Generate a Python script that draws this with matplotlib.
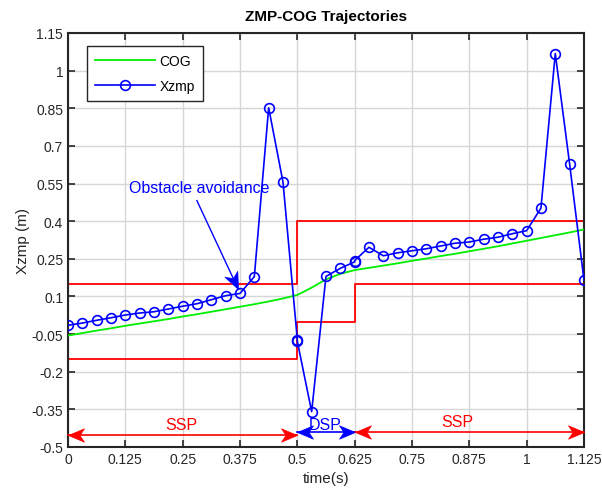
import numpy as np
import matplotlib
matplotlib.use("Agg")
import matplotlib.pyplot as plt
from matplotlib.path import Path
from matplotlib.markers import MarkerStyle
from matplotlib.transforms import Affine2D

plt.rcParams['font.family'] = ['Liberation Sans', 'DejaVu Sans']

dt = 1.0 / 32
# time indices of Xzmp samples (duplicates at the phase boundaries)
zmp_k = [0, 1, 2, 3, 4, 5, 6, 7, 8, 9, 10, 11, 12, 13, 14, 15, 16, 16, 17, 18, 19, 20, 20,
         21, 22, 23, 24, 25, 26, 27, 28, 29, 30, 31, 32, 33, 34, 35, 36]
zmp_x = [-0.015, -0.006, 0.005, 0.015, 0.026, 0.034, 0.039, 0.050, 0.061, 0.071, 0.087,
         0.103, 0.112, 0.179, 0.852, 0.556, -0.072, -0.079, -0.359, 0.180, 0.212, 0.238,
         0.243, 0.296, 0.262, 0.274, 0.282, 0.290, 0.301, 0.312, 0.317, 0.328, 0.336,
         0.350, 0.362, 0.452, 1.068, 0.628, 0.166]

cog_k = list(range(37))
cog_x = [-0.056, -0.046, -0.036, -0.027, -0.017, -0.008, 0.001, 0.010, 0.020, 0.029,
         0.039, 0.049, 0.059, 0.069, 0.080, 0.092, 0.106, 0.135, 0.168, 0.190, 0.205,
         0.214, 0.223, 0.232, 0.242, 0.251, 0.261, 0.270, 0.280, 0.290, 0.300, 0.311,
         0.322, 0.333, 0.344, 0.355, 0.367]

# support-polygon bounds (step functions)
bound_t = [0, 0.5, 0.5, 0.625, 0.625, 1.125]
upper_b = [0.15, 0.15, 0.4, 0.4, 0.4, 0.4]
lower_b = [-0.15, -0.15, 0.0, 0.0, 0.15, 0.15]

# phases
phase_names = ['SSP', 'DSP', 'SSP']
phase_start = [0.0, 0.5, 0.625]
phase_end = [0.5, 0.625, 1.125]
phase_arrow_y = [-0.452, -0.442, -0.442]
phase_label_x = [0.246, 0.56, 0.849]
phase_label_y = [-0.41, -0.41, -0.40]
phase_colors = ['#ff0000', '#0000ff', '#ff0000']

xticks = [0, 0.125, 0.25, 0.375, 0.5, 0.625, 0.75, 0.875, 1, 1.125]
xtick_labels = ['0', '0.125', '0.25', '0.375', '0.5', '0.625', '0.75', '0.875', '1', '1.125']
yticks = [-0.5, -0.35, -0.2, -0.05, 0.1, 0.25, 0.4, 0.55, 0.7, 0.85, 1, 1.15]
ytick_labels = ['-0.5', '-0.35', '-0.2', '-0.05', '0.1', '0.25', '0.4', '0.55', '0.7', '0.85', '1', '1.15']

zmp_t = [k * dt for k in zmp_k]
cog_t = [k * dt for k in cog_k]

fig = plt.figure(figsize=(6.02, 5.02), dpi=100)
ax = fig.add_axes([0.113, 0.1076, 0.857, 0.8247])

ax.plot(cog_t, cog_x, color='#00ee00', lw=1.3, label='COG', zorder=3)
ax.plot(zmp_t, zmp_x, color='#0000ff', lw=1.2, marker='o', markersize=7,
        markerfacecolor='none', markeredgewidth=1.2, label='Xzmp', zorder=4)
ax.plot(bound_t, upper_b, color='#ff0000', lw=1.3, zorder=2)
ax.plot(bound_t, lower_b, color='#ff0000', lw=1.3, zorder=2)

ax.set_xlim(0, 1.125)
ax.set_ylim(-0.5, 1.15)
ax.set_xticks(xticks)
ax.set_xticklabels(xtick_labels)
ax.set_yticks(yticks)
ax.set_yticklabels(ytick_labels)
ax.tick_params(direction='in', top=True, right=True, labelsize=10, length=5, width=1.2, colors='#262626')
for s in ax.spines.values():
    s.set_linewidth(1.5)
    s.set_color('#262626')
ax.grid(True, color='#d6d6d6', lw=1.0)
ax.set_axisbelow(True)

ax.set_title('ZMP-COG Trajectories', fontsize=11, fontweight='bold', pad=9)
ax.set_xlabel('time(s)', fontsize=11, color='#262626')
ax.set_ylabel('Xzmp (m)', fontsize=11, color='#262626', labelpad=1)

leg = ax.legend(loc='upper left', bbox_to_anchor=(0.037, 0.969), borderaxespad=0,
                fontsize=10, fancybox=False, edgecolor='#262626', framealpha=1,
                borderpad=0.6, handlelength=4.3, handletextpad=0.3, labelspacing=0.75)
leg.get_frame().set_linewidth(1.0)
# widen the legend box a little on the right, like the reference
fig.canvas.draw()
bb = leg.get_frame().get_bbox()
leg.get_frame().set_width(bb.width + 8)

# concave (swept-back) arrow head marker, tip at origin pointing +x
head_path = Path([(0, 0), (-1, 0.42), (-0.72, 0), (-1, -0.42), (0, 0)],
                 [Path.MOVETO, Path.LINETO, Path.LINETO, Path.LINETO, Path.CLOSEPOLY])


def head_marker(angle_deg):
    return MarkerStyle(head_path, transform=Affine2D().rotate_deg(angle_deg))


def draw_head(x, y, angle_deg, color, size=23):
    ax.plot([x], [y], linestyle='none', marker=head_marker(angle_deg), markersize=size,
            markerfacecolor=color, markeredgecolor=color, markeredgewidth=0.5,
            zorder=6, clip_on=False)


# phase double arrows
for name, t0, t1, ya, lx, ly, c in zip(phase_names, phase_start, phase_end, phase_arrow_y,
                                        phase_label_x, phase_label_y, phase_colors):
    ax.plot([t0, t1], [ya, ya], color=c, lw=1.2, zorder=5, clip_on=False)
    draw_head(t0, ya, 180, c)
    draw_head(t1, ya, 0, c)
    ax.text(lx, ly, name, color=c, fontsize=11.5, ha='center', va='center')

# annotation "Obstacle avoidance"
ann_text = (0.286, 0.536)
ann_tail = (0.281, 0.482)
ann_head = (0.371, 0.130)
ax.text(ann_text[0], ann_text[1], 'Obstacle avoidance', color='#0000ff', fontsize=11.5,
        ha='center', va='center')
ax.plot([ann_tail[0], ann_head[0]], [ann_tail[1], ann_head[1]], color='#0000ff', lw=1.0, zorder=6)
p0 = ax.transData.transform(ann_tail)
p1 = ax.transData.transform(ann_head)
ang = np.degrees(np.arctan2(p1[1] - p0[1], p1[0] - p0[0]))
draw_head(ann_head[0], ann_head[1], ang, '#0000ff', size=24)

fig.savefig('out.png', dpi=100)
